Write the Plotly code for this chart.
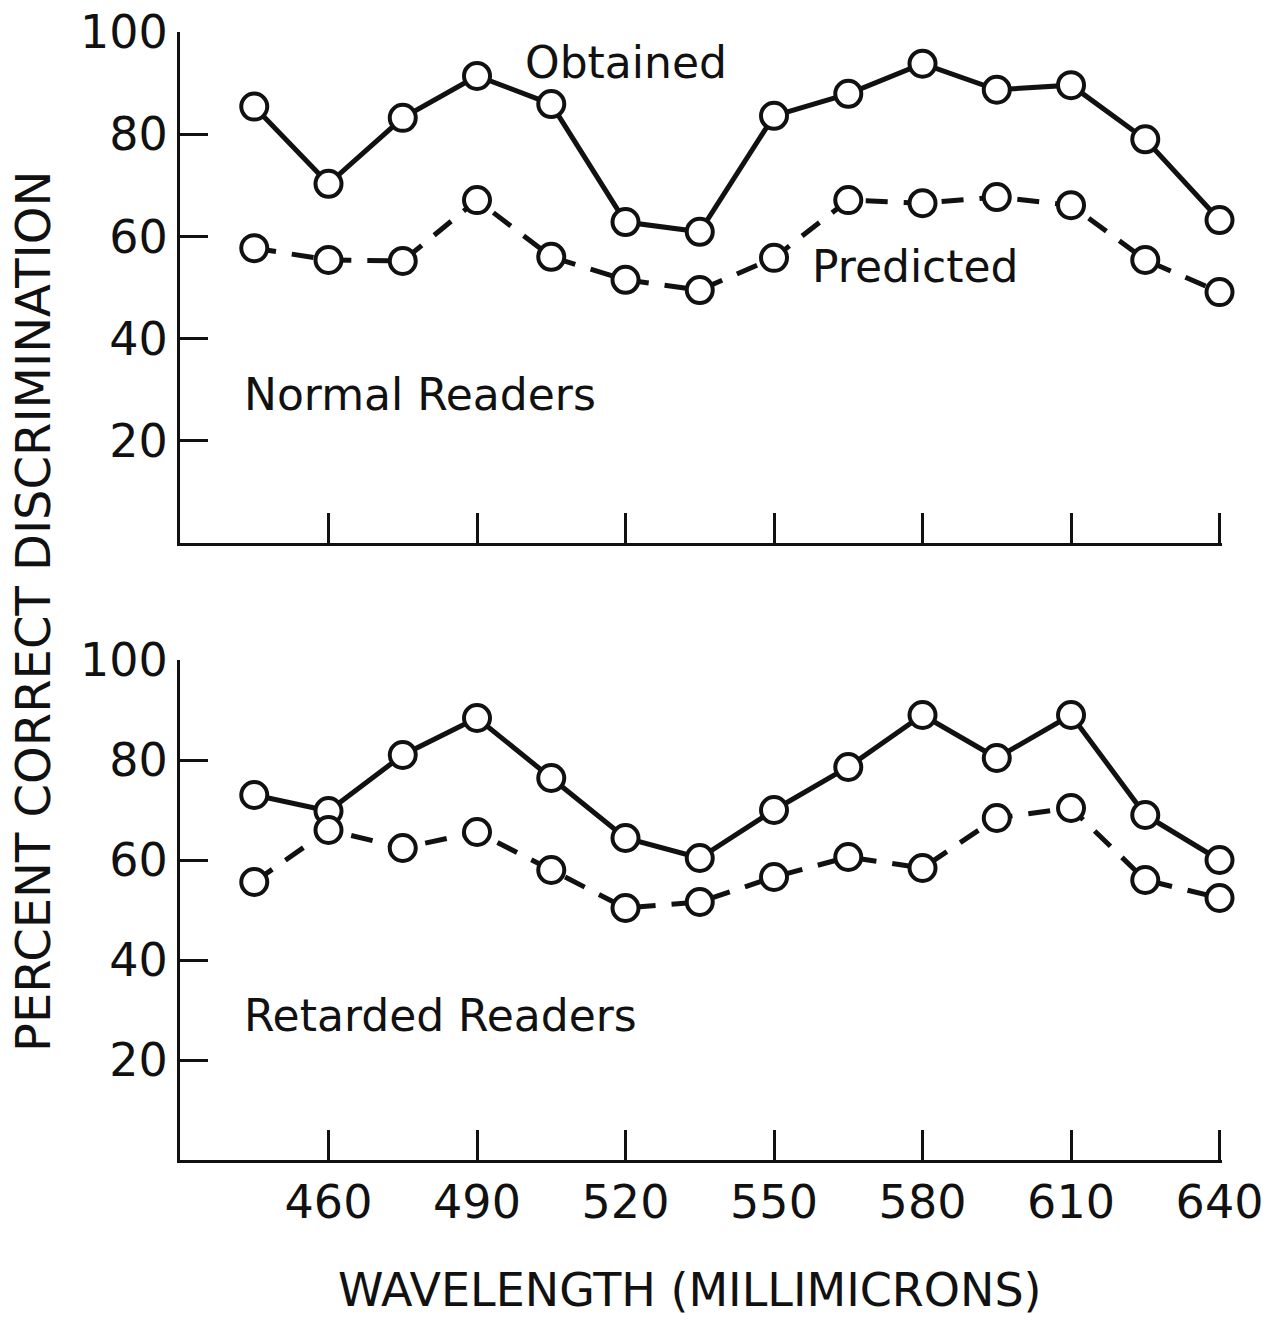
import plotly.graph_objects as go
from plotly.subplots import make_subplots

wavelength = [445, 460, 475, 490, 505, 520, 535, 550, 565, 580, 595, 610, 625, 640]

normal_obtained = [85.4, 70.3, 83.2, 91.4, 85.9, 62.8, 60.9, 83.6, 87.9, 93.8, 88.7, 89.6, 79.0, 63.2]
normal_predicted = [57.7, 55.4, 55.2, 67.1, 56.0, 51.5, 49.5, 55.8, 67.1, 66.5, 67.7, 66.1, 55.4, 49.1]

retarded_obtained = [73.0, 69.8, 81.0, 88.4, 76.4, 64.4, 60.4, 70.0, 78.6, 89.0, 80.4, 89.0, 69.0, 60.0]
retarded_predicted = [55.6, 66.0, 62.4, 65.6, 58.0, 50.4, 51.6, 56.6, 60.6, 58.4, 68.4, 70.4, 56.0, 52.4]

x_ticks = [460, 490, 520, 550, 580, 610, 640]
y_ticks = [20, 40, 60, 80, 100]

FONT = "DejaVu Sans"
INK = "#111111"

fig = make_subplots(rows=2, cols=1)

def add_pair(obt, pred, row):
    fig.add_trace(go.Scatter(
        x=wavelength, y=obt, mode="lines+markers", cliponaxis=False,
        line=dict(color=INK, width=5),
        marker=dict(symbol="circle", size=26, color="white",
                    line=dict(color=INK, width=4)),
        showlegend=False, name="Obtained"), row=row, col=1)
    fig.add_trace(go.Scatter(
        x=wavelength, y=pred, mode="lines+markers", cliponaxis=False,
        line=dict(color=INK, width=5, dash="22px,16px"),
        marker=dict(symbol="circle", size=26, color="white",
                    line=dict(color=INK, width=4)),
        showlegend=False, name="Predicted"), row=row, col=1)

add_pair(normal_obtained, normal_predicted, 1)
add_pair(retarded_obtained, retarded_predicted, 2)

W, H = 1270, 1322
L, R = 180, 48
PW = W - L - R
fig.update_layout(
    width=W, height=H,
    margin=dict(l=L, r=R, t=0, b=0, autoexpand=False),
    paper_bgcolor="white", plot_bgcolor="white",
    font=dict(family=FONT, color=INK, size=46),
)

top_dom = [1 - 543 / H, 1 - 32 / H]
bot_dom = [1 - 1160 / H, 1 - 660 / H]

tick_font = dict(size=46, family=FONT, color=INK)
common_x = dict(range=[430, 640.5], tickvals=x_ticks, ticks="inside", ticklen=30,
                tickwidth=3, tickcolor=INK, showline=True, linecolor=INK,
                linewidth=3, showgrid=False, zeroline=False, automargin=False,
                tickfont=tick_font)
common_y = dict(range=[0, 100], tickvals=y_ticks, ticks="inside", ticklen=28,
                tickwidth=3, tickcolor=INK, showline=True, linecolor=INK,
                linewidth=3, showgrid=False, zeroline=False, automargin=False,
                tickfont=tick_font)

fig.update_xaxes(**common_x, showticklabels=False, row=1, col=1)
fig.update_xaxes(**common_x, showticklabels=True, row=2, col=1)
fig.update_yaxes(**common_y, domain=top_dom, row=1, col=1)
fig.update_yaxes(**common_y, domain=bot_dom, row=2, col=1)

ann_font = dict(size=44, family=FONT, color=INK)
fig.add_annotation(x=520, y=94, xref="x", yref="y", text="Obtained",
                   showarrow=False, font=ann_font)
fig.add_annotation(x=578.5, y=54.2, xref="x", yref="y", text="Predicted",
                   showarrow=False, font=ann_font)
fig.add_annotation(x=442.5, y=29, xref="x", yref="y", text="Normal Readers",
                   showarrow=False, xanchor="left", font=ann_font)
fig.add_annotation(x=442.5, y=29, xref="x2", yref="y2", text="Retarded Readers",
                   showarrow=False, xanchor="left", font=ann_font)

fig.add_annotation(x=(33 - L) / PW, y=1 - 612 / H, xref="paper", yref="paper",
                   text="PERCENT CORRECT DISCRIMINATION", textangle=-90,
                   xanchor="center", yanchor="middle",
                   showarrow=False, font=dict(size=48, family=FONT, color=INK))
fig.add_annotation(x=(690 - L) / PW, y=1 - 1290 / H, xref="paper", yref="paper",
                   text="WAVELENGTH (MILLIMICRONS)",
                   xanchor="center", yanchor="middle",
                   showarrow=False, font=dict(size=46, family=FONT, color=INK))

fig.write_html("out.html")
